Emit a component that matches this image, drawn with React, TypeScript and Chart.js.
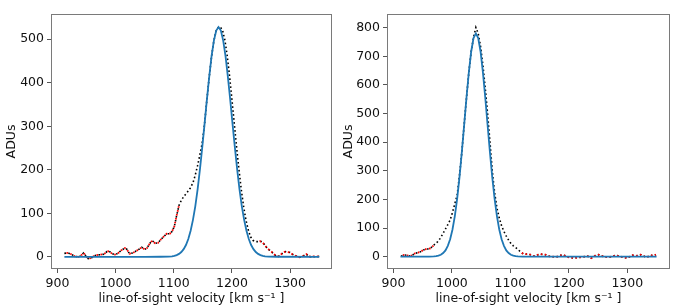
import React, { useEffect, useRef } from "react";
import { Chart, registerables } from "chart.js";

Chart.register(...registerables);

const FONT = "'DejaVu Sans', 'Liberation Sans', sans-serif";
const X_TITLE = "line-of-sight velocity [km s\u207B\u00B9 ]";
const Y_TITLE = "ADUs";

// ---------- left panel ----------
const leftVel = [
  912, 918, 924, 930, 936, 940, 945, 949, 953, 958,
  963, 968, 974, 980, 985, 989, 994, 999, 1004, 1010,
  1016, 1019, 1024, 1030, 1036, 1041, 1045, 1050, 1054, 1060,
  1063, 1068, 1073, 1078, 1083, 1088, 1093, 1097, 1101, 1105,
  1109, 1113, 1118, 1123, 1128, 1133, 1137, 1141, 1145, 1149,
  1153, 1157, 1161, 1165, 1169, 1173, 1177, 1180, 1184, 1188,
  1192, 1196, 1200, 1204, 1208, 1212, 1216, 1220, 1224, 1228,
  1232, 1236, 1240, 1244, 1248, 1252, 1256, 1260, 1264, 1268,
  1272, 1276, 1280, 1284, 1288, 1292, 1296, 1300, 1304, 1308,
  1312, 1316, 1320, 1324, 1328, 1332, 1336, 1340, 1344, 1350,
];
const leftFlux = [
  8, 9, 6, 1, 0, 2, 9, 2, -4, -3,
  2, 4, 5, 6, 12, 13, 7, 5, 8, 15,
  20, 18, 7, 9, 14, 18, 22, 17, 20, 33,
  37, 31, 32, 40, 47, 53, 53, 58, 70, 95,
  118, 130, 140, 148, 157, 170, 188, 210, 235, 262,
  306, 362, 414, 461, 497, 520, 528, 528, 520, 497,
  461, 414, 362, 306, 252, 201, 155, 116, 85, 62,
  46, 38, 35, 35, 36, 34, 28, 21, 16, 12,
  6, 2, 1, 5, 10, 12, 11, 10, 6, 3,
  1, -1, 0, 3, 6, 1, 0, 1, 0, 1,
];
const leftFitVel = [
  912, 1050, 1077, 1091,
  1097, 1101, 1105, 1109, 1113, 1117, 1121, 1125, 1129, 1133,
  1137, 1141, 1145, 1149, 1153, 1157, 1161, 1165, 1169, 1173,
  1177,
  1181, 1185, 1189, 1193, 1197, 1201, 1205, 1209, 1213, 1217,
  1221, 1225, 1229, 1233, 1237, 1241, 1245, 1249, 1253, 1257,
  1263, 1277, 1350,
];
const leftFitFlux = [
  0, 0, 0.1, 0.5,
  1.2, 2.2, 3.9, 6.7, 11, 17.6, 27, 41, 60, 85,
  116, 155, 201, 252, 306, 362, 414, 461, 497, 520,
  528,
  520, 497, 461, 414, 362, 306, 252, 201, 155, 116,
  85, 60, 41, 27, 17.6, 11, 6.7, 3.9, 2.2, 1.2,
  0.5, 0.1, 0,
];
const leftMasked = [
  [912, 1110],
  [1243, 1350],
];
const leftYTicks = [0, 100, 200, 300, 400, 500];

// ---------- right panel ----------
const rightVel = [
  913, 918, 923, 928, 933, 937, 942, 946, 950, 954,
  959, 963, 967, 971, 976, 980, 984, 988, 992, 997,
  1001, 1005, 1009, 1013, 1017, 1021, 1025, 1029, 1033, 1037,
  1041, 1045, 1049, 1053, 1057, 1061, 1065, 1069, 1073, 1077,
  1081, 1085, 1089, 1093, 1097, 1101, 1105, 1109, 1113, 1117,
  1122, 1127, 1132, 1136, 1140, 1146, 1151, 1156, 1160, 1164,
  1169, 1175, 1180, 1184, 1189, 1194, 1200, 1204, 1209, 1214,
  1220, 1226, 1232, 1238, 1242, 1246, 1251, 1256, 1260, 1264,
  1269, 1274, 1280, 1284, 1289, 1294, 1300, 1304, 1309, 1314,
  1318, 1323, 1327, 1332, 1336, 1340, 1345, 1349,
];
const rightFlux = [
  2, 6, 5, 2, 6, 12, 14, 17, 22, 26,
  27, 29, 36, 44, 53, 64, 78, 93, 108, 128,
  155, 185, 215, 285, 366, 461, 557, 645, 717, 766,
  801, 780, 735, 670, 590, 500, 405, 300, 225, 170,
  135, 108, 88, 72, 58, 46, 38, 32, 25, 18,
  10, 9, 9, 5, 2, 6, 9, 8, 7, 3,
  0, 0, 0, 3, 7, 3, -2, -3, -5, -3,
  -2, 0, 2, -5, 0, 5, 7, 3, 0, -1,
  -2, 1, 5, 3, 0, -2, -5, 0, 5, 3,
  4, 7, 3, -2, 1, 5, 4, 7,
];
const rightFitVel = [
  912, 961,
  969, 973, 977, 981, 985, 989, 993, 997, 1001, 1005,
  1009, 1013, 1017, 1021, 1025, 1029, 1033, 1037,
  1041,
  1045, 1049, 1053, 1057, 1061, 1065, 1069, 1073, 1077,
  1081, 1085, 1089, 1093, 1097, 1101, 1105, 1109, 1113,
  1121, 1350,
];
const rightFitFlux = [
  0, 0.2,
  0.9, 1.8, 3.6, 6.9, 12.6, 22, 38, 61, 95, 142,
  203, 278, 366, 461, 557, 645, 717, 764,
  780,
  764, 717, 645, 557, 461, 366, 278, 203, 142,
  95, 61, 38, 22, 12.6, 6.9, 3.6, 1.8, 0.9,
  0.2, 0,
];
const rightMasked = [
  [913, 972],
  [1115, 1350],
];
const rightYTicks = [0, 100, 200, 300, 400, 500, 600, 700, 800];

const xTicks = [900, 1000, 1100, 1200, 1300];

type PanelProps = {
  vel: number[];
  flux: number[];
  fitVel: number[];
  fitFlux: number[];
  masked: number[][];
  yTicks: number[];
  xMin: number;
  xMax: number;
  yMin: number;
  yMax: number;
  yAxisWidth: number;
  padRight: number;
  yTitlePad: number;
  left: number;
  width: number;
};

function Panel(p: PanelProps) {
  const ref = useRef<HTMLCanvasElement | null>(null);
  useEffect(() => {
    if (!ref.current) return;
    const data = p.vel.map((v, i) => ({ x: v, y: p.flux[i] }));
    const red = p.vel.map((v, i) => ({
      x: v,
      y: p.masked.some(([a, b]) => v >= a && v <= b) ? p.flux[i] : null,
    }));
    const fit = p.fitVel.map((v, i) => ({ x: v, y: p.fitFlux[i] }));

    const framePlugin = {
      id: "frame",
      afterDraw(chart: any) {
        const { ctx, chartArea } = chart;
        const { left, top, right, bottom } = chartArea;
        ctx.save();
        ctx.strokeStyle = "#7a7a7a";
        ctx.lineWidth = 1;
        ctx.strokeRect(left + 0.5, top + 0.5, right - left - 1, bottom - top - 1);
        ctx.restore();
      },
    };

    const tickFont = { family: FONT, size: 12.5 };
    const titleFont = { family: FONT, size: 12.5 };

    const chart = new Chart(ref.current, {
      type: "line",
      data: {
        datasets: [
          {
            data: fit as any,
            borderColor: "#1f77b4",
            borderWidth: 1.8,
            pointRadius: 0,
            order: 0,
          },
          {
            data: red as any,
            borderColor: "#ff0000",
            borderWidth: 1.8,
            borderDash: [1.6, 2.4],
            borderDashOffset: 2,
            pointRadius: 0,
            spanGaps: false,
            order: 1,
          },
          {
            data: data as any,
            borderColor: "#000000",
            borderWidth: 1.6,
            borderDash: [1.6, 2.4],
            pointRadius: 0,
            order: 2,
          },
        ],
      },
      options: {
        animation: false,
        responsive: false,
        devicePixelRatio: 1,
        events: [],
        layout: { padding: { left: 0, top: 14, right: p.padRight, bottom: 0 } },
        plugins: {
          legend: { display: false },
          tooltip: { enabled: false },
        },
        scales: {
          x: {
            type: "linear",
            min: p.xMin,
            max: p.xMax,
            afterBuildTicks: (s: any) => {
              s.ticks = xTicks.map((v) => ({ value: v }));
            },
            afterFit: (s: any) => {
              s.height = 38;
            },
            ticks: {
              callback: (v: any) => String(v),
              font: tickFont,
              color: "#111",
              maxRotation: 0,
              autoSkip: false,
              padding: 3,
            },
            grid: {
              display: true,
              drawOnChartArea: false,
              drawTicks: true,
              tickLength: 4,
              color: "#555",
            },
            border: { display: false },
            title: {
              display: true,
              text: X_TITLE,
              font: titleFont,
              color: "#111",
              padding: { top: 0, bottom: 1 },
            },
          },
          y: {
            type: "linear",
            min: p.yMin,
            max: p.yMax,
            afterBuildTicks: (s: any) => {
              s.ticks = p.yTicks.map((v) => ({ value: v }));
            },
            afterFit: (s: any) => {
              s.width = p.yAxisWidth;
            },
            ticks: {
              callback: (v: any) => String(v),
              font: tickFont,
              color: "#111",
              autoSkip: false,
              padding: 3,
            },
            grid: {
              display: true,
              drawOnChartArea: false,
              drawTicks: true,
              tickLength: 4,
              color: "#555",
            },
            border: { display: false },
            title: {
              display: true,
              text: Y_TITLE,
              font: titleFont,
              color: "#111",
              padding: { top: p.yTitlePad, bottom: 0 },
            },
          },
        },
      },
      plugins: [framePlugin],
    } as any);
    return () => chart.destroy();
  }, []);
  return (
    <canvas
      ref={ref}
      width={p.width}
      height={307}
      style={{ position: "absolute", left: p.left, top: 0, width: p.width, height: 307 }}
    />
  );
}

export default function App() {
  return (
    <div style={{ position: "fixed", left: 0, top: 0, width: 674, height: 307, background: "#fff" }}>
      <Panel
        vel={leftVel}
        flux={leftFlux}
        fitVel={leftFitVel}
        fitFlux={leftFitFlux}
        masked={leftMasked}
        yTicks={leftYTicks}
        xMin={889}
        xMax={1372}
        yMin={-28}
        yMax={558}
        yAxisWidth={51}
        padRight={8}
        yTitlePad={4.5}
        left={0}
        width={340}
      />
      <Panel
        vel={rightVel}
        flux={rightFlux}
        fitVel={rightFitVel}
        fitFlux={rightFitFlux}
        masked={rightMasked}
        yTicks={rightYTicks}
        xMin={889}
        xMax={1373}
        yMin={-43}
        yMax={848}
        yAxisWidth={47}
        padRight={4}
        yTitlePad={1}
        left={340}
        width={334}
      />
    </div>
  );
}
